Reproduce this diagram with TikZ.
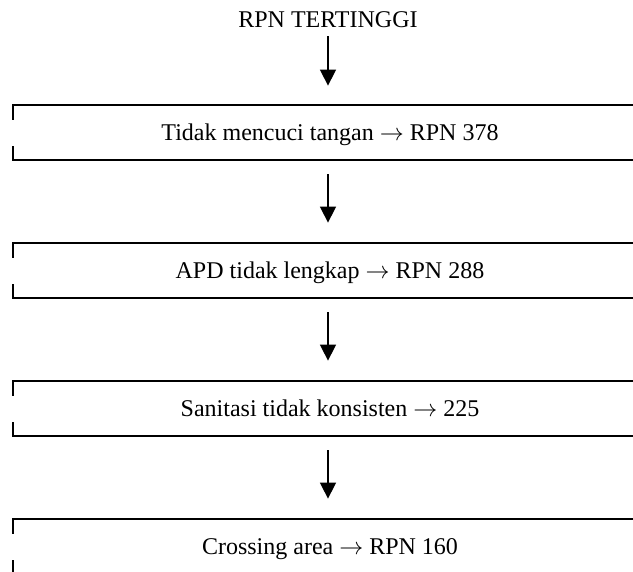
\documentclass[tikz,border=0pt]{standalone}
\usepackage{fontspec}
\setmainfont{Liberation Serif}
\usepackage{tikz}
\usetikzlibrary{arrows.meta, positioning}

\begin{document}
\begin{tikzpicture}[node distance=69pt, on grid,
        txt/.style={font=\fontsize{12}{14}\selectfont, text height=9pt, text depth=0.5pt},
        rpnbox/.style={txt, minimum width=317pt, minimum height=27.5pt, inner sep=0pt},
        flow/.style={line width=0.8pt, -{Triangle[width=8pt, length=8pt]}}]
        \useasboundingbox (0,0) rectangle (316.5pt,-286pt);

        \node[txt] (top) at (164pt,-9.75pt) {RPN TERTINGGI};
        \node[rpnbox] (box1) [below=56.5pt of top, xshift=1pt] {Tidak mencuci tangan $\rightarrow$ RPN 378};
        \node[rpnbox] (box2) [below=of box1] {APD tidak lengkap $\rightarrow$ RPN 288};
        \node[rpnbox] (box3) [below=of box2] {Sanitasi tidak konsisten $\rightarrow$ 225};
        \node[rpnbox] (box4) [below=of box3] {Crossing area $\rightarrow$ RPN 160};

        % open brackets round the boxes
        \foreach \b in {box1, box2, box3, box4}
            \draw[line width=1pt] ([yshift=-7.5pt]\b.north west) -- (\b.north west) -- (\b.north east)
                ([yshift=7pt]\b.south west) -- (\b.south west) -- (\b.south east);

        \draw[flow, shorten >=9.5pt] (top.south) -- (top.south |- box1.north);
        \draw[flow, shorten <=7pt, shorten >=10pt] (box1.south -| top) -- (box2.north -| top);
        \draw[flow, shorten <=7pt, shorten >=10pt] (box2.south -| top) -- (box3.north -| top);
        \draw[flow, shorten <=7pt, shorten >=10pt] (box3.south -| top) -- (box4.north -| top);
\end{tikzpicture}
\end{document}
